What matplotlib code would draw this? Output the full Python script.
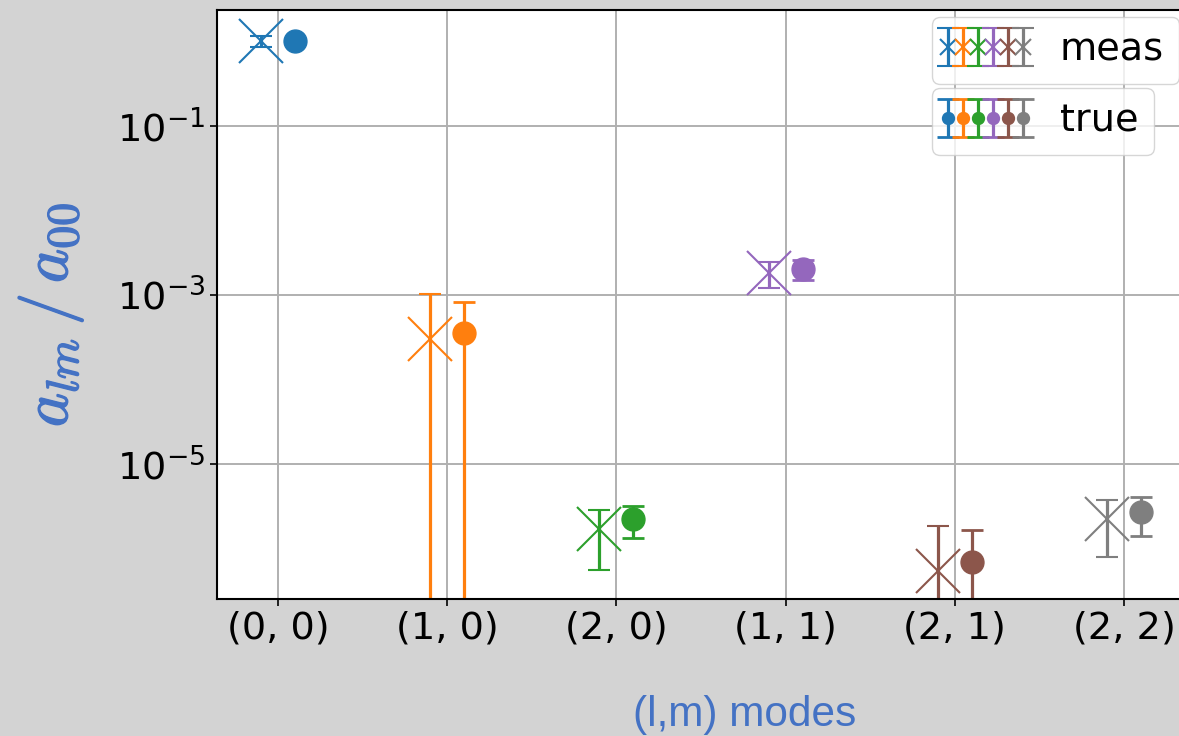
import matplotlib
matplotlib.use('Agg')
import matplotlib.pyplot as plt
import matplotlib.patheffects as pe
from matplotlib.legend_handler import HandlerTuple
import numpy as np

modes = ['(0, 0)', '(1, 0)', '(2, 0)', '(1, 1)', '(2, 1)', '(2, 2)']
meas_vals = [1.0, 3.0e-4, 1.7e-6, 1.82e-3, 5.3e-7, 2.24e-6]
meas_errs = [0.15, 7.2e-4, 1.15e-6, 0.6e-3, 1.32e-6, 1.45e-6]
true_vals = [1.0, 3.5e-4, 2.24e-6, 2.04e-3, 6.8e-7, 2.7e-6]
true_errs = [0.02, 4.8e-4, 0.92e-6, 0.55e-3, 0.98e-6, 1.3e-6]
colors = ['#1f77b4', '#ff7f0e', '#2ca02c', '#9467bd', '#8c564b', '#7f7f7f']

W, H = 1179, 736
fig = plt.figure(figsize=(W / 100, H / 100), dpi=100, facecolor='#d3d3d3')
ax = fig.add_axes([217 / W, 1 - 599 / H, 968 / W, 589 / H])
ax.set_yscale('log')

x = np.arange(len(modes))
meas_cont = []
true_cont = []
for i in range(len(modes)):
    c = colors[i]
    em = ax.errorbar(x[i] - 0.1, meas_vals[i], yerr=meas_errs[i], fmt='x', ms=31,
                     mew=1.5, elinewidth=2.3, capsize=8, capthick=2.0, color=c)
    et = ax.errorbar(x[i] + 0.1, true_vals[i], yerr=true_errs[i], fmt='o', ms=16.5,
                     elinewidth=2.3, capsize=8, capthick=2.0, color=c)
    meas_cont.append(em)
    true_cont.append(et)

ax.set_xlim(-0.36, 5.36)
ax.set_ylim(2.5e-7, 2.36)
ax.set_xticks(x)
ax.set_xticklabels(modes)
ax.set_yticks([1e-1, 1e-3, 1e-5])
ax.yaxis.set_minor_locator(matplotlib.ticker.NullLocator())
ax.tick_params(labelsize=27.5, length=5, width=1.2, color='black')
ax.grid(True, color='#b0b0b0', lw=1.4)
ax.set_axisbelow(True)
for s in ax.spines.values():
    s.set_linewidth(1.5)

hmap = {tuple: HandlerTuple(ndivide=None, pad=0.37)}
leg1 = ax.legend([tuple(meas_cont)], ['meas'], handler_map=hmap, loc='upper left',
                 bbox_to_anchor=(932 / W, 1 - 17 / H), bbox_transform=fig.transFigure,
                 borderaxespad=0, fontsize=27.5, markerscale=0.38, framealpha=0.8,
                 handletextpad=0.95)
ax.add_artist(leg1)
leg2 = ax.legend([tuple(true_cont)], ['true'], handler_map=hmap, loc='upper left',
                 bbox_to_anchor=(932 / W, 1 - 88 / H), bbox_transform=fig.transFigure,
                 borderaxespad=0, fontsize=27.5, markerscale=0.52, framealpha=0.8,
                 handletextpad=0.95)

fig.text(50 / W, 1 - 315 / H, r'$a_{lm}\,/\,a_{00}$', rotation=90, color='#4472C4',
         fontsize=47, ha='center', va='center', math_fontfamily='cm',
         path_effects=[pe.withStroke(linewidth=1.0, foreground='#4472C4')])
fig.text(745 / W, 10 / H, '(l,m) modes', ha='center', va='baseline', fontsize=30.5,
         color='#4472C4', family='Liberation Sans')

fig.savefig('out.png', dpi=100, facecolor=fig.get_facecolor())
